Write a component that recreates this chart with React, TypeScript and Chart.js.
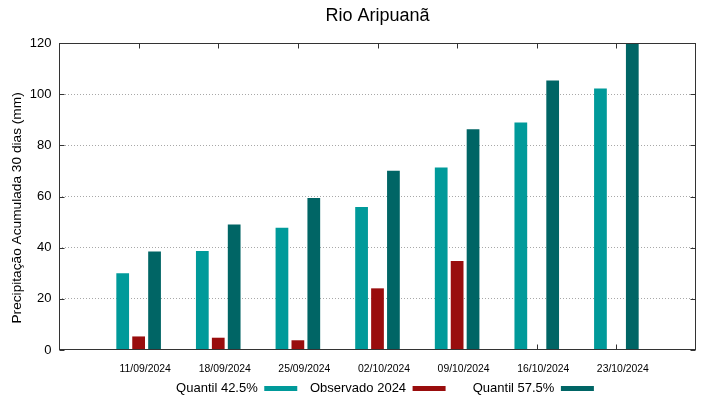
import { useEffect, useRef } from "react";
import { Chart, registerables } from "chart.js";

Chart.register(...registerables);

const categories = [
  "11/09/2024",
  "18/09/2024",
  "25/09/2024",
  "02/10/2024",
  "09/10/2024",
  "16/10/2024",
  "23/10/2024",
];
const quantil425 = [30.0, 38.7, 47.8, 55.9, 71.3, 88.9, 102.2];
const observado2024 = [5.3, 4.8, 3.8, 24.1, 34.8, null, null];
const quantil575 = [38.5, 49.1, 59.4, 70.1, 86.3, 105.3, 120];
const yTickValues = [0, 20, 40, 60, 80, 100, 120];

const COLORS = {
  q425: "#009a9a",
  obs: "#990d0d",
  q575: "#006565",
};

const FONT = "'Liberation Sans', Arial, sans-serif";

const framePlugin = {
  id: "gnuplotFrame",
  beforeLayout(chart: any) {
    const lg = chart.legend;
    if (lg && !lg.__patched) {
      const orig = lg.fit;
      lg.fit = function () {
        orig.call(this);
        this.height = 22;
      };
      lg.__patched = true;
    }
  },
  afterLayout(chart: any) {
    const lg = chart.legend;
    if (lg) {
      lg.top = 369.3;
      lg.bottom = 399;
      lg.left += 37;
      lg.right += 37;
    }
  },
  beforeDatasetsDraw(chart: any) {
    const { ctx, chartArea } = chart;
    const xs = chart.scales.x;
    const ys = chart.scales.y;
    const L = Math.round(chartArea.left) + 0.5;
    const R = Math.round(chartArea.right) - 0.5;
    const T = Math.round(chartArea.top) + 0.5;
    const B = Math.round(chartArea.bottom) - 0.5;
    ctx.save();
    ctx.strokeStyle = "#333333";
    ctx.lineWidth = 1;
    ctx.beginPath();
    const len = 5;
    categories.forEach((_, i) => {
      const px = Math.round(xs.getPixelForValue(i)) + 0.5;
      ctx.moveTo(px, B);
      ctx.lineTo(px, B - len);
      ctx.moveTo(px, T);
      ctx.lineTo(px, T + len);
    });
    yTickValues.forEach((v) => {
      const py = Math.round(ys.getPixelForValue(v)) + 0.5;
      ctx.moveTo(L, py);
      ctx.lineTo(L + len, py);
      ctx.moveTo(R, py);
      ctx.lineTo(R - len, py);
    });
    ctx.stroke();
    ctx.restore();
  },
  afterDatasetsDraw(chart: any) {
    const { ctx, chartArea } = chart;
    const L = Math.round(chartArea.left) + 0.5;
    const R = Math.round(chartArea.right) - 0.5;
    const T = Math.round(chartArea.top) + 0.5;
    const B = Math.round(chartArea.bottom) - 0.5;
    ctx.save();
    ctx.strokeStyle = "#333333";
    ctx.lineWidth = 1;
    ctx.strokeRect(L, T, R - L, B - T);
    ctx.restore();
  },
};

export default function App() {
  const canvasRef = useRef<HTMLCanvasElement | null>(null);

  useEffect(() => {
    document.body.style.margin = "0";
    const canvas = canvasRef.current;
    if (!canvas) return;
    const toPoints = (arr: (number | null)[]) =>
      arr.map((v, i) => ({ x: i, y: v }));

    const chart = new Chart(canvas, {
      type: "bar",
      data: {
        datasets: [
          {
            label: "Quantil 42.5%",
            data: toPoints(quantil425) as any,
            backgroundColor: COLORS.q425,
            borderWidth: 0,
          },
          {
            label: "Observado 2024",
            data: toPoints(observado2024) as any,
            backgroundColor: COLORS.obs,
            borderWidth: 0,
          },
          {
            label: "Quantil 57.5%",
            data: toPoints(quantil575) as any,
            backgroundColor: COLORS.q575,
            borderWidth: 0,
          },
        ],
      },
      plugins: [framePlugin],
      options: {
        animation: false,
        responsive: false,
        maintainAspectRatio: false,
        devicePixelRatio: 1,
        layout: { padding: { left: 0, right: 23, top: 0, bottom: 0 } },
        datasets: {
          bar: { categoryPercentage: 0.6, barPercentage: 0.8 },
        },
        scales: {
          x: {
            type: "linear",
            offset: false,
            min: -1,
            max: 7,
            grid: { display: false, drawTicks: false },
            border: { display: false },
            afterBuildTicks: (scale: any) => {
              scale.ticks = categories.map((_, i) => ({ value: i }));
            },
            afterFit: (scale: any) => {
              scale.height = 27;
            },
            ticks: {
              autoSkip: false,
              maxRotation: 0,
              padding: 13,
              labelOffset: 6.5,
              color: "#000",
              font: { family: FONT, size: 10.4 },
              callback: (v: any) => categories[Number(v)] ?? "",
            },
          },
          y: {
            min: 0,
            max: 120,
            afterBuildTicks: (scale: any) => {
              scale.ticks = yTickValues.map((v) => ({ value: v }));
            },
            afterFit: (scale: any) => {
              scale.width = 59;
            },
            grid: {
              color: (c: any) =>
                c.tick && (c.tick.value === 0 || c.tick.value === 120)
                  ? "rgba(0,0,0,0)"
                  : "#a8a8a8",
              drawTicks: false,
              lineWidth: 1,
            },
            border: { display: false, dash: [1, 2] },
            ticks: {
              padding: 7.5,
              color: "#000",
              font: { family: FONT, size: 13 },
            },
            title: {
              display: true,
              text: "Precipitação Acumulada 30 dias (mm)      ",
              color: "#000",
              padding: { top: 9, bottom: 0 },
              font: { family: FONT, size: 13.7 },
            },
          },
        },
        plugins: {
          title: {
            display: true,
            text: "Rio Aripuanã",
            color: "#000",
            fullSize: false,
            padding: { top: 5, bottom: 16.4 },
            font: { family: FONT, size: 18, weight: "normal" },
          },
          legend: {
            display: true,
            position: "bottom",
            rtl: true,
            reverse: true,
            labels: {
              boxWidth: 33,
              boxHeight: 5,
              padding: 12.7,
              color: "#000",
              font: { family: FONT, size: 13 },
              generateLabels: (ch: any) => {
                const items = Chart.defaults.plugins.legend.labels.generateLabels(ch);
                return items.map((it: any) => {
                  it.lineWidth = 0;
                  if (it.datasetIndex === 2) it.text = "    " + it.text;
                  return it;
                });
              },
            },
          },
          tooltip: { enabled: false },
        },
      },
    });
    return () => chart.destroy();
  }, []);

  return (
    <div style={{ width: 719, height: 399, background: "#fff" }}>
      <canvas ref={canvasRef} width={719} height={399} style={{ display: "block" }} />
    </div>
  );
}
